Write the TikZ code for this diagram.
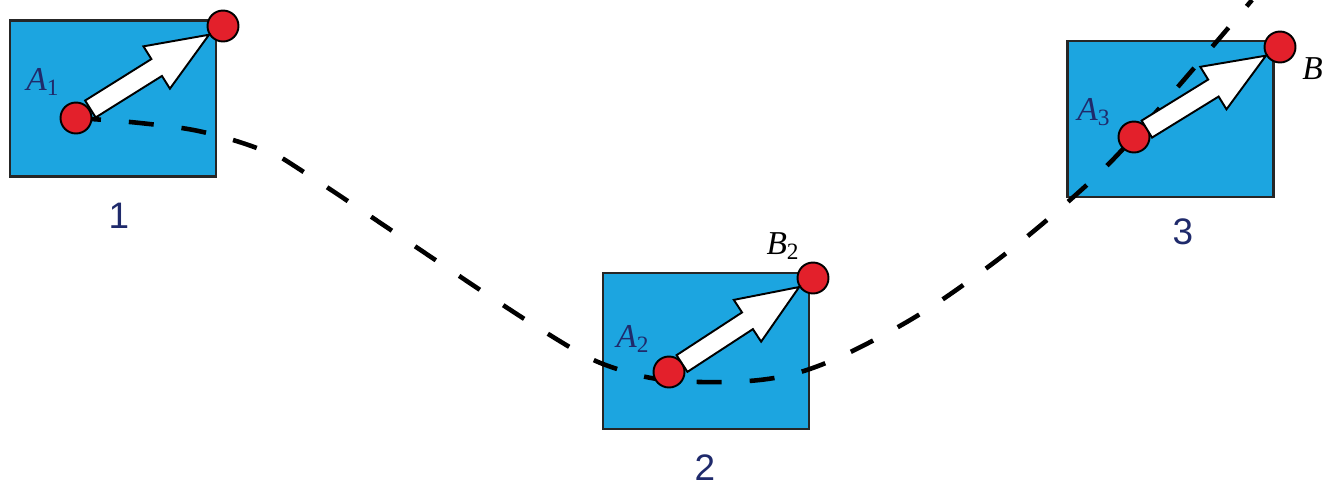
\documentclass[tikz,border=0pt]{standalone}
\usepackage{fontspec}
\setmainfont{Liberation Serif}
\newfontfamily\numfont{Liberation Sans}
\usetikzlibrary{shapes.arrows}
\definecolor{boxblue}{HTML}{1CA5E0}
\definecolor{dotred}{HTML}{E3202B}
\definecolor{labelnavy}{HTML}{1F2A6B}
\tikzset{
  posbox/.style={draw=black!85, fill=boxblue, line width=1.2pt, minimum width=4.12cm, minimum height=3.12cm, inner sep=0pt},
  posdot/.style={circle, draw=black, fill=dotred, line width=1.1pt, minimum size=0.62cm, inner sep=0pt},
  fatarrow/.style={single arrow, draw=black, fill=white, line width=1.1pt, minimum height=2.8cm, inner xsep=0pt, inner ysep=0.18cm, text height=0pt, text depth=0pt, single arrow head extend=0.3cm, single arrow tip angle=44, outer sep=0pt, anchor=tip, sloped},
  trajectory/.style={dash pattern=on 0.5cm off 0.56cm, line width=2.6pt},
  pointlabel/.style={font=\fontsize{19}{19}\selectfont, text=labelnavy, inner sep=0pt},
  numlabel/.style={font=\numfont\fontsize{21}{21}\selectfont, text=labelnavy, inner sep=0pt}
}
\begin{document}
\begin{tikzpicture}[x=0.02cm, y=-0.02cm]
\useasboundingbox (0,0) rectangle (1323,487);
\clip (0,0) rectangle (1323,487);
\coordinate (p1) at (76,118);
\coordinate (p2) at (669,372);
\coordinate (p3) at (1134,137);
\node[posbox] (box1) at (113,98.5) {};
\node[posbox] (box2) at (706,351) {};
\node[posbox] (box3) at (1170.5,119) {};
\draw[trajectory] plot[smooth, tension=0.6] coordinates {(p1) (140,123) (203,132) (267,152) (313,178) (537,327) (620,370) (700,382) (797,373) (898,327) (988,267) (1070,200) (p3) (1252,0)};
\node[posdot] (A1) at (p1) {};
\node[posdot] (B1) at (223,26) {};
\node[posdot] (A2) at (p2) {};
\node[posdot] (B2) at (813,278) {};
\node[posdot] (A3) at (p3) {};
\node[posdot] (B3) at (1280,47) {};
\path (A1) -- node[fatarrow, pos=1] (arrow1) {} (B1);
\path (A2) -- node[fatarrow, pos=1] (arrow2) {} (B2);
\path (A3) -- node[fatarrow, pos=1] (arrow3) {} (B3);
\node[pointlabel] (labelA1) at (43,82) {\textit{A}\textsubscript{1}};
\node[pointlabel] (labelA2) at (633,339) {\textit{A}\textsubscript{2}};
\node[pointlabel] (labelA3) at (1094,112) {\textit{A}\textsubscript{3}};
\node[pointlabel, text=black] (labelB2) at (783,246) {\textit{B}\textsubscript{2}};
\node[pointlabel, text=black, anchor=west] (labelB3) at (1302,71) {\textit{B}\textsubscript{3}};
\node[numlabel] (num1) at (119,216) {1};
\node[numlabel] (num2) at (705,468) {2};
\node[numlabel] (num3) at (1183,232) {3};
\end{tikzpicture}
\end{document}
